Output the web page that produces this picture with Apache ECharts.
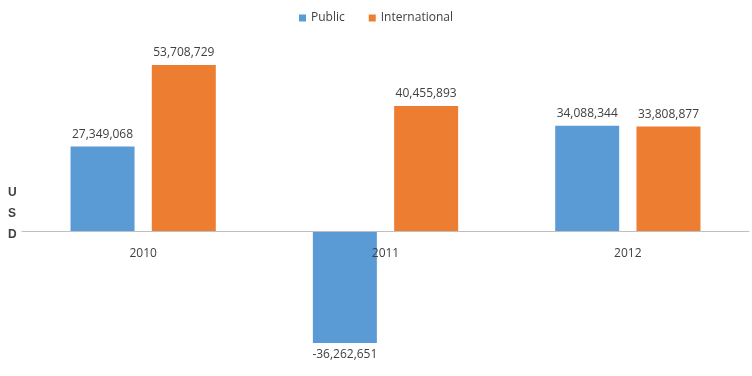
<!DOCTYPE html>
<html><head><meta charset="utf-8">
<script src="https://cdn.jsdelivr.net/npm/echarts@6/dist/echarts.min.js"></script>
<style>html,body{margin:0;padding:0;background:#fff}#c{width:752px;height:376px}</style>
</head><body><div id="c"></div>
<script>
const categories = ['2010', '2011', '2012'];
const publicValues = [27349068, -36262651, 34088344];
const internationalValues = [53708729, 40455893, 33808877];
const seriesNames = ['Public', 'International'];

const fmt = v => v.toLocaleString('en-US');
const toData = arr => arr.map(v => ({
  value: v,
  label: { position: v < 0 ? 'bottom' : 'top' }
}));

const chart = echarts.init(document.getElementById('c'));
chart.setOption({
  animation: false,
  textStyle: { fontFamily: 'Open Sans, Liberation Sans, sans-serif' },
  legend: {
    top: 7, left: 'center', itemWidth: 7, itemHeight: 7, itemGap: 24,
    icon: 'rect',
    textStyle: { fontSize: 12, color: '#404040' },
    data: seriesNames
  },
  graphic: [{
    type: 'text', left: 8, top: 182,
    style: { text: 'U\nS\nD', fontSize: 12, fontWeight: 'bold', lineHeight: 21, fill: '#404040' }
  }],
  grid: { left: 22, right: 3, top: 45.6, bottom: 21.4, outerBoundsMode: 'none', containLabel: false },
  xAxis: {
    type: 'category', data: categories, z: 10,
    offset: -123.6,
    axisLine: { onZero: false, lineStyle: { color: '#bfbfbf', width: 1 } },
    axisTick: { show: false },
    axisLabel: { color: '#404040', fontSize: 12, margin: 17 },
    splitLine: { show: false }
  },
  yAxis: {
    type: 'value', min: -40000000, max: 60000000, show: false,
    splitLine: { show: false }
  },
  series: [
    {
      name: seriesNames[0], type: 'bar', data: toData(publicValues),
      barWidth: 64, barGap: '27%',
      itemStyle: { color: '#5B9BD5' },
      label: { show: true, formatter: p => fmt(p.value), fontSize: 12, color: '#404040', distance: 6 }
    },
    {
      name: seriesNames[1], type: 'bar', data: toData(internationalValues),
      barWidth: 64,
      itemStyle: { color: '#ED7D31' },
      label: { show: true, formatter: p => fmt(p.value), fontSize: 12, color: '#404040', distance: 6 }
    }
  ]
});
</script></body></html>
